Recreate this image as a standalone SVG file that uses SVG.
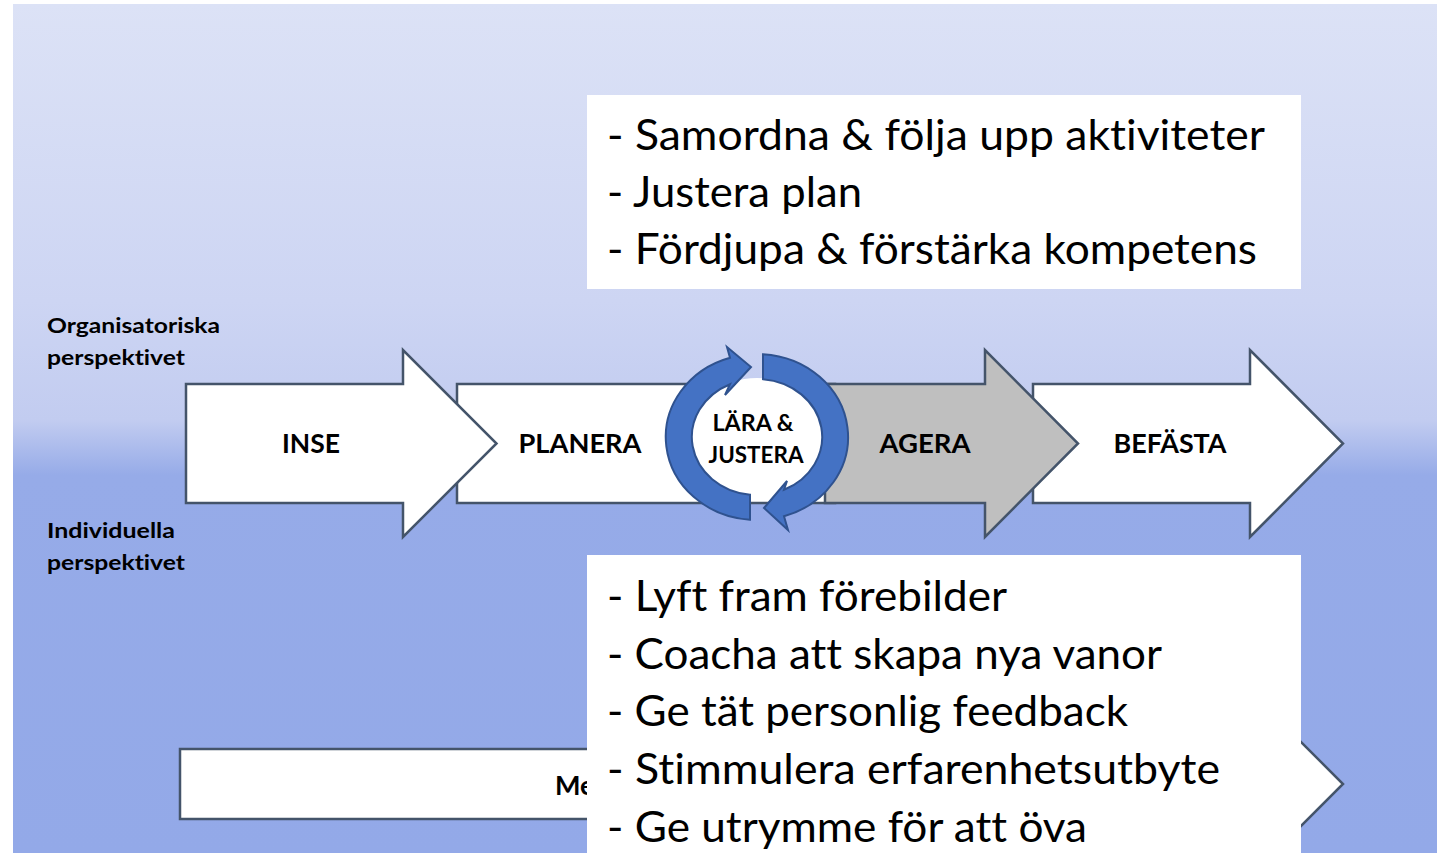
<svg xmlns="http://www.w3.org/2000/svg" width="1437" height="853" viewBox="0 0 1437 853">
<defs>
<linearGradient id="bg" gradientUnits="userSpaceOnUse" x1="0" y1="4" x2="0" y2="853">
<stop offset="0" stop-color="#dce2f6"/>
<stop offset="0.35" stop-color="#cdd5f3"/>
<stop offset="0.49" stop-color="#c2ccf0"/>
<stop offset="0.555" stop-color="#96abe8"/>
<stop offset="1" stop-color="#93a9e8"/>
</linearGradient>
<style>
text{font-variant-ligatures:none;font-feature-settings:"liga" 0,"clig" 0,"dlig" 0}
.arr{stroke:#44546a;stroke-width:2.5;stroke-linejoin:miter}
.w{fill:#ffffff}
.g{fill:#bfbfbf}
.lbl{font-family:Lato,"Liberation Sans",sans-serif;font-weight:bold;fill:#000}
.big{font-family:Lato,"Liberation Sans",sans-serif;font-size:43px;fill:#000}
.side{font-family:Lato,"Liberation Sans",sans-serif;font-weight:bold;font-size:20px;fill:#000}
.ring{fill:#4472c4;stroke:#2f528f;stroke-width:2}
</style>
</defs>
<rect x="0" y="0" width="1437" height="853" fill="#ffffff"/>
<rect x="13" y="4" width="1424" height="849" fill="url(#bg)"/>

<g id="side-labels">
<text class="side" x="47" y="333" textLength="173" lengthAdjust="spacingAndGlyphs">Organisatoriska</text>
<text class="side" x="47" y="365" textLength="138" lengthAdjust="spacingAndGlyphs">perspektivet</text>
<text class="side" x="47" y="538" textLength="128" lengthAdjust="spacingAndGlyphs">Individuella</text>
<text class="side" x="47" y="570" textLength="138" lengthAdjust="spacingAndGlyphs">perspektivet</text>
</g>

<g id="top-box">
<rect x="587" y="95" width="714" height="194" fill="#ffffff"/>
<text class="big" x="607" y="150" textLength="658" lengthAdjust="spacingAndGlyphs">- Samordna &amp; följa upp aktiviteter</text>
<text class="big" x="607" y="207" textLength="255" lengthAdjust="spacingAndGlyphs">- Justera plan</text>
<text class="big" x="607" y="264" textLength="650" lengthAdjust="spacingAndGlyphs">- Fördjupa &amp; förstärka kompetens</text>
</g>

<g id="planera">
<rect class="arr w" x="457" y="384" width="378" height="119"/>
<text class="lbl" x="580" y="453" font-size="27" text-anchor="middle" textLength="123" lengthAdjust="spacingAndGlyphs">PLANERA</text>
</g>

<g id="befasta">
<path class="arr w" d="M1033,384 H1250 V350 L1343,443.5 L1250,537 V503 H1033 Z"/>
<text class="lbl" x="1170" y="453" font-size="27" text-anchor="middle" textLength="113" lengthAdjust="spacingAndGlyphs">BEFÄSTA</text>
</g>

<g id="agera">
<path class="arr g" d="M825,384 H985 V350 L1078,443.5 L985,537 V503 H825 Z"/>
<text class="lbl" x="925" y="453" font-size="27" text-anchor="middle" textLength="91" lengthAdjust="spacingAndGlyphs">AGERA</text>
</g>

<g id="inse">
<path class="arr w" d="M186,384 H403 V350 L496.5,443.5 L403,537 V503 H186 Z"/>
<text class="lbl" x="311" y="453" font-size="27" text-anchor="middle" textLength="58" lengthAdjust="spacingAndGlyphs">INSE</text>
</g>

<g id="lara-justera">
<ellipse cx="757" cy="437" rx="66" ry="59" fill="#ffffff"/>
<path class="ring" d="M750,519.8 A91,83 0 0 1 730,357.7 L727,347 L751,367 L725,395 L730,384.2 A65,58 0 0 0 750,494.7 Z"/>
<path class="ring" d="M763,354.2 A91,83 0 0 1 784,516.3 L788,530 L764,508 L787,481 L784,489.8 A65,58 0 0 0 763,379.2 Z"/>
<text class="lbl" x="753" y="431" font-size="22" text-anchor="middle" textLength="81" lengthAdjust="spacingAndGlyphs">LÄRA &amp;</text>
<text class="lbl" x="756" y="463" font-size="22" text-anchor="middle" textLength="95" lengthAdjust="spacingAndGlyphs">JUSTERA</text>
</g>

<g id="bottom-arrow">
<path class="arr w" d="M180,749 H1250 V691 L1343,784 L1250,877 V819 H180 Z"/>
<text class="lbl" x="555" y="795" font-size="27">Me</text>
</g>

<g id="bottom-box">
<rect x="587" y="555" width="714" height="300" fill="#ffffff"/>
<text class="big" x="607" y="611" textLength="400" lengthAdjust="spacingAndGlyphs">- Lyft fram förebilder</text>
<text class="big" x="607" y="669" textLength="555" lengthAdjust="spacingAndGlyphs">- Coacha att skapa nya vanor</text>
<text class="big" x="607" y="726" textLength="521" lengthAdjust="spacingAndGlyphs">- Ge tät personlig feedback</text>
<text class="big" x="607" y="784" textLength="613" lengthAdjust="spacingAndGlyphs">- Stimmulera erfarenhetsutbyte</text>
<text class="big" x="607" y="842" textLength="480" lengthAdjust="spacingAndGlyphs">- Ge utrymme för att öva</text>
</g>

<g id="connectors"></g>
</svg>
